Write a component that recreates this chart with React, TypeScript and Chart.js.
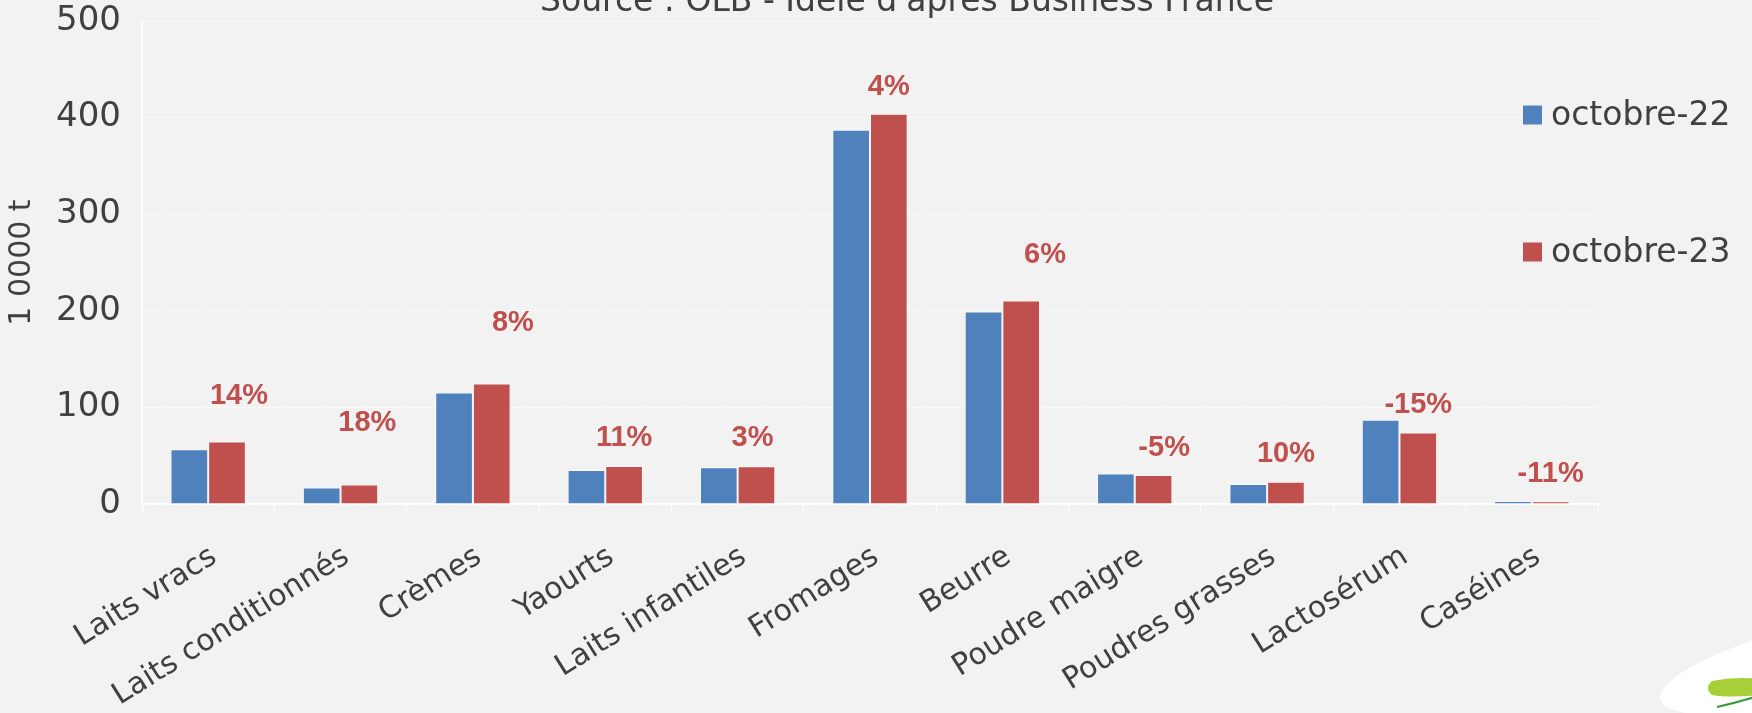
import { useEffect, useRef } from "react";
import { Chart, registerables } from "chart.js";

Chart.register(...registerables);

// ---- data ----
const categories = [
  "Laits vracs",
  "Laits conditionnés",
  "Crèmes",
  "Yaourts",
  "Laits infantiles",
  "Fromages",
  "Beurre",
  "Poudre maigre",
  "Poudres grasses",
  "Lactosérum",
  "Caséines",
];
const seriesNames = ["octobre-22", "octobre-23"];
const oct22 = [56.6, 17.2, 115.5, 35.2, 38, 387.5, 199.3, 31.7, 20.7, 87.2, 3.1];
const oct23 = [64.8, 20.3, 124.8, 39.3, 39, 404, 210.6, 30, 23.1, 74.1, 2.8];
const changeLabels = ["14%", "18%", "8%", "11%", "3%", "4%", "6%", "-5%", "10%", "-15%", "-11%"];
// vertical anchor of each change label, in axis units (labels were placed by hand in the source)
const changeLabelValues = [111.7, 83.4, 187, 68, 68, 431.5, 257.5, 58.2, 51.3, 102.4, 31];
const yTickValues = [0, 100, 200, 300, 400, 500];
const yAxisTitle = "1 0000 t";
const sourceText = "Source : OLB - Idele d'après Business France";

// ---- styles ----
const FONT = "'DejaVu Sans', sans-serif";
const TEXT = "#404040";
const BLUE = "#4F81BD";
const RED = "#C0504D";
const BG = "#F2F2F2";
// horizontal nudges of change labels, as fraction of category width
const labelShift = [0.09, 0.06, 0.16, 0, -0.03, 0, 0.18, 0.08, 0, 0, 0];

const sourcePlugin = {
  id: "sourceTitle",
  afterDraw(chart: any) {
    const ctx = chart.ctx;
    ctx.save();
    ctx.font = `33px ${FONT}`;
    ctx.fillStyle = TEXT;
    ctx.textAlign = "center";
    ctx.textBaseline = "alphabetic";
    ctx.fillText(sourceText, 907, 11);
    ctx.restore();
  },
};

const changeLabelPlugin = {
  id: "changeLabels",
  afterDatasetsDraw(chart: any) {
    const ctx = chart.ctx;
    const meta = chart.getDatasetMeta(1);
    const yScale = chart.scales.y;
    const xScale = chart.scales.x;
    const catW = xScale.width / categories.length;
    ctx.save();
    ctx.font = `bold 29px 'Liberation Sans', Arial, sans-serif`;
    ctx.fillStyle = RED;
    ctx.textAlign = "center";
    ctx.textBaseline = "middle";
    changeLabels.forEach((t, i) => {
      const bar = meta.data[i];
      const x = bar.x + labelShift[i] * catW;
      const y = yScale.getPixelForValue(changeLabelValues[i]);
      ctx.fillText(t, x, y);
    });
    ctx.restore();
  },
};

const legendPlugin = {
  id: "customLegend",
  afterDraw(chart: any) {
    const ctx = chart.ctx;
    const items = chart.data.datasets;
    const ys = [115, 252];
    ctx.save();
    items.forEach((ds: any, i: number) => {
      const cy = ys[i];
      ctx.fillStyle = BG;
      ctx.fillRect(1519, cy - 20, 233, 40);
      ctx.fillStyle = ds.backgroundColor;
      ctx.fillRect(1523, cy - 9.5, 19, 19);
      ctx.font = `33px ${FONT}`;
      ctx.fillStyle = TEXT;
      ctx.textAlign = "left";
      ctx.textBaseline = "middle";
      ctx.fillText(ds.label, 1551, cy + 1);
    });
    ctx.restore();
  },
};

const logoPlugin = {
  id: "logo",
  afterDraw(chart: any) {
    const ctx = chart.ctx;
    ctx.save();
    ctx.fillStyle = "#FFFFFF";
    ctx.beginPath();
    ctx.ellipse(1875, 651, 220, 44, -0.22, 0, Math.PI * 2);
    ctx.fill();
    ctx.fillStyle = "#A8CF38";
    ctx.beginPath();
    ctx.moveTo(1712, 681);
    ctx.quadraticCurveTo(1735, 676, 1760, 679);
    ctx.lineTo(1760, 695);
    ctx.quadraticCurveTo(1730, 698, 1712, 695);
    ctx.quadraticCurveTo(1704, 688, 1712, 681);
    ctx.fill();
    ctx.strokeStyle = "#3A9A3A";
    ctx.lineWidth = 2;
    ctx.beginPath();
    ctx.moveTo(1717, 707);
    ctx.quadraticCurveTo(1735, 703, 1755, 697);
    ctx.stroke();
    ctx.restore();
  },
};

export default function App() {
  const ref = useRef<HTMLCanvasElement | null>(null);

  useEffect(() => {
    if (!ref.current) return;
    const chart = new Chart(ref.current, {
      type: "bar",
      data: {
        labels: categories,
        datasets: [
          {
            label: seriesNames[0],
            data: oct22,
            backgroundColor: BLUE,
            borderColor: "rgba(255,255,255,0.45)",
            borderWidth: 1,
            categoryPercentage: 0.569,
            barPercentage: 1,
          },
          {
            label: seriesNames[1],
            data: oct23,
            backgroundColor: RED,
            borderColor: "rgba(255,255,255,0.45)",
            borderWidth: 1,
            categoryPercentage: 0.569,
            barPercentage: 1,
          },
        ],
      },
      options: {
        animation: false,
        responsive: false,
        devicePixelRatio: 1,
        layout: { padding: { left: 0, right: 154, top: 21, bottom: 0 } },
        plugins: {
          legend: { display: false },
          tooltip: { enabled: false },
          title: { display: false },
        },
        scales: {
          x: {
            offset: true,
            grid: {
              offset: true,
              drawOnChartArea: false,
              drawTicks: true,
              tickLength: 10,
              color: "#FFFFFF",
              lineWidth: 1,
            },
            border: { display: true, color: "#FFFFFF", width: 1.5 },
            ticks: {
              autoSkip: false,
              minRotation: 32,
              maxRotation: 32,
              padding: 25,
              labelOffset: 6,
              color: TEXT,
              font: { family: FONT, size: 30 },
            },
            afterFit(scale: any) {
              scale.height = 209;
            },
          },
          y: {
            min: 0,
            max: 500,
            afterBuildTicks(scale: any) {
              scale.ticks = yTickValues.map((v) => ({ value: v }));
            },
            grid: { color: "#FFFFFF", lineWidth: 1, drawTicks: false },
            border: { display: true, color: "#FFFFFF", width: 1.5, dash: [3, 2] },
            ticks: {
              padding: 21,
              color: TEXT,
              font: { family: FONT, size: 34 },
            },
            title: {
              display: true,
              text: yAxisTitle,
              color: TEXT,
              font: { family: FONT, size: 30 },
              padding: { top: 4, bottom: 4 },
            },
            afterFit(scale: any) {
              scale.width = 142;
              scale.paddingTop = 18;
              scale.paddingBottom = 18;
            },
          },
        },
      },
      plugins: [changeLabelPlugin, legendPlugin, sourcePlugin, logoPlugin],
    } as any);
    return () => chart.destroy();
  }, []);

  return (
    <div
      style={{
        position: "fixed",
        left: 0,
        top: 0,
        width: 1752,
        height: 713,
        background: BG,
        overflow: "hidden",
      }}
    >
      <canvas ref={ref} width={1752} height={713} style={{ display: "block" }} />
    </div>
  );
}
